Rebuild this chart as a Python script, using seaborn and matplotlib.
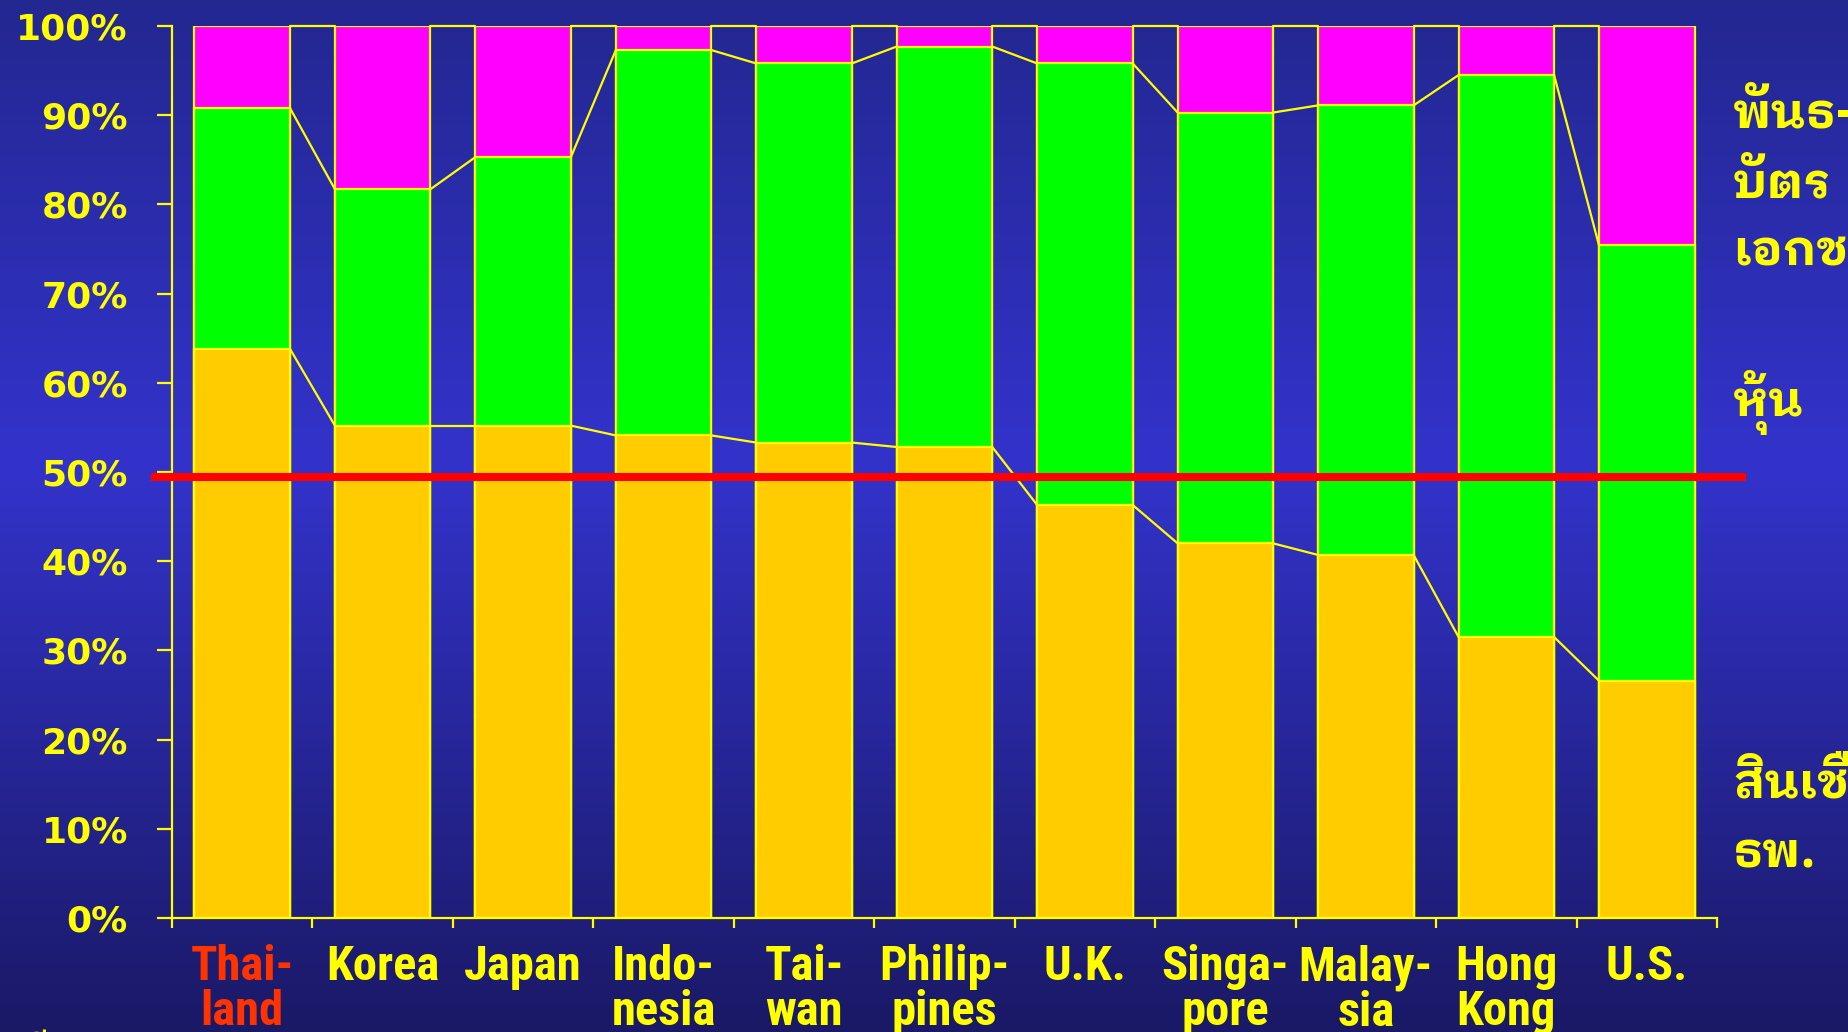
import numpy as np
import pandas as pd
import matplotlib.pyplot as plt
import seaborn as sns
from matplotlib import font_manager
from matplotlib.colors import LinearSegmentedColormap
from matplotlib.ft2font import FT2Font

# Data (share of financing, %)
countries = ["Thai-\nland", "Korea", "Japan", "Indo-\nnesia", "Tai-\nwan", "Philip-\npines",
             "U.K.", "Singa-\npore", "Malay-\nsia", "Hong\nKong", "U.S."]
bank_loans = [63.8, 55.2, 55.2, 54.1, 53.3, 52.8, 46.3, 42.0, 40.7, 31.5, 26.6]
stocks = [27.0, 26.5, 30.1, 43.2, 42.5, 44.9, 49.5, 48.3, 50.4, 63.0, 48.8]
bonds = [9.2, 18.3, 14.7, 2.7, 4.2, 2.3, 4.2, 9.7, 8.9, 5.5, 24.6]
y_ticks = [0, 10, 20, 30, 40, 50, 60, 70, 80, 90, 100]
y_tick_labels = [f"{t}%" for t in y_ticks]
ref_level = 49.4

# series labels on the right (top to bottom)
bond_label = ["พันธ-", "บัตร", "เอกชน"]
stock_label = ["หุ้น"]
loan_label = ["สินเชื่อ", "ธพ."]

YELLOW = "#FFFF00"
GOLD = "#FFCC00"
GREEN = "#00FF00"
MAGENTA = "#FF00FF"
RED = "#FF0000"
BAR_W = 0.68


def pick_font(candidates, default):
    names = {f.name for f in font_manager.fontManager.ttflist}
    for c in candidates:
        if c in names:
            return c
    return default


def thai_font():
    found = []
    for f in font_manager.fontManager.ttflist:
        try:
            if 0x0E1E in FT2Font(f.fname).get_charmap():
                found.append(f.name)
        except Exception:
            continue
    # looped Thai faces look closest to the original slide font
    for pref in ["Looped", "Norasi", "Kinnari", "Garuda", "Loma", "Waree", "Umpush",
                 "Laksaman", "TH Sarabun", "Serif", "Thai"]:
        for n in found:
            if pref in n:
                return n
    return found[0] if found else "DejaVu Sans"


def main():
    sns.set_style("white")
    narrow = pick_font(["Liberation Sans Narrow", "Roboto Condensed", "Arial Narrow"], "DejaVu Sans")
    thai = thai_font()

    df = pd.DataFrame({"country": countries, "loans": bank_loans, "stocks": stocks, "bonds": bonds})
    df["lvl1"] = df["loans"]
    df["lvl2"] = df["loans"] + df["stocks"]
    df["lvl3"] = df["lvl2"] + df["bonds"]

    fig = plt.figure(figsize=(18.48, 10.32), dpi=100)

    # gradient background
    bg = fig.add_axes([0, 0, 1, 1], zorder=-5)
    cmap = LinearSegmentedColormap.from_list(
        "bg", [(0, "#232790"), (0.45, "#3333CC"), (1, "#1A1966")])
    bg.imshow(np.linspace(0, 1, 256).reshape(-1, 1), aspect="auto", cmap=cmap,
              extent=[0, 1, 0, 1], origin="upper")
    bg.axis("off")

    ax = fig.add_axes([172 / 1848, 1 - 918 / 1032, 1545 / 1848, 892 / 1032])
    ax.set_facecolor("none")

    for col, color in [("lvl3", MAGENTA), ("lvl2", GREEN), ("lvl1", GOLD)]:
        sns.barplot(data=df, x="country", y=col, color=color, saturation=1, width=BAR_W,
                    edgecolor=YELLOW, linewidth=1.6, errorbar=None, ax=ax, zorder=2)

    # series lines between adjacent bars
    x = np.arange(len(df))
    for col in ["lvl1", "lvl2", "lvl3"]:
        vals = df[col].values
        for i in range(len(x) - 1):
            ax.plot([x[i] + BAR_W / 2, x[i + 1] - BAR_W / 2], [vals[i], vals[i + 1]],
                    color=YELLOW, lw=1.6, zorder=3, clip_on=False)

    ax.axhline(ref_level, xmin=-0.0136, xmax=1.0188, color=RED, lw=5.8,
               solid_capstyle="butt", zorder=6, clip_on=False)

    ax.set_xlim(-0.5, len(df) - 0.5)
    ax.set_ylim(0, 100)
    ax.set_xlabel("")
    ax.set_ylabel("")

    for s in ["top", "right"]:
        ax.spines[s].set_visible(False)
    for s in ["left", "bottom"]:
        ax.spines[s].set_color(YELLOW)
        ax.spines[s].set_linewidth(1.6)

    ax.set_yticks(y_ticks)
    ax.set_yticklabels(y_tick_labels, fontfamily="DejaVu Sans", fontweight="bold",
                       fontsize=26, color=YELLOW)
    ax.tick_params(axis="y", direction="out", length=10.8, width=1.6, color=YELLOW, pad=21, left=True)

    ax.set_xticks(x)
    ax.set_xticklabels(countries, fontfamily=narrow, fontweight="bold", fontsize=35,
                       color=YELLOW, linespacing=0.97)
    ax.get_xticklabels()[0].set_color("#FF3300")
    ax.set_xticks(np.arange(len(df) + 1) - 0.5, minor=True)
    ax.tick_params(axis="x", which="major", length=0, pad=19)
    ax.tick_params(axis="x", which="minor", direction="out", length=7, width=1.6,
                   color=YELLOW, bottom=True)

    # series names on the right
    tx = 1733 / 1848
    for lines, baselines in [(bond_label, [127, 198, 265]), (stock_label, [416]),
                             (loan_label, [798, 868])]:
        for txt, b in zip(lines, baselines):
            fig.text(tx, 1 - b / 1032, txt, fontfamily=thai, fontweight="bold",
                     fontsize=35, color=YELLOW, va="baseline", ha="left")

    # cut-off source note at the bottom left
    fig.text(0.011, -0.032, "ที่มา", fontfamily=thai, fontsize=28, color=YELLOW,
             va="baseline", ha="left")

    fig.savefig("out.png", dpi=100)


if __name__ == "__main__":
    main()
